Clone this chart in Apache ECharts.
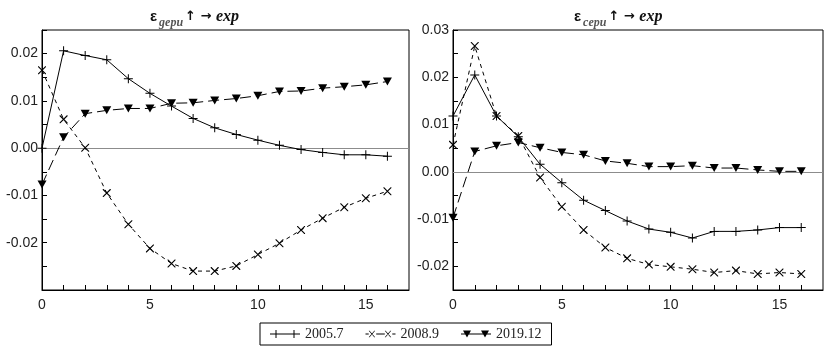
<!DOCTYPE html>
<html>
<head>
<meta charset="utf-8">
<script src="https://cdn.jsdelivr.net/npm/echarts@6/dist/echarts.min.js"></script>
<style>
  html, body { margin: 0; padding: 0; background: #fff; }
  #chart { width: 829px; height: 356px; }
</style>
</head>
<body>
<div id="chart"></div>
<script>
// horizon (periods)
const horizon = [0, 1, 2, 3, 4, 5, 6, 7, 8, 9, 10, 11, 12, 13, 14, 15, 16];
const seriesNames = ["2005.7", "2008.9", "2019.12"];

// left panel: gepu shock -> exp
const gepu2005 = [0, 0.0206, 0.0196, 0.0187, 0.0147, 0.0116, 0.0089, 0.0063, 0.0043, 0.0029, 0.0017, 0.0006, -0.0003, -0.0009, -0.0014, -0.0014, -0.0017];
const gepu2008 = [0.0165, 0.0061, 0.0001, -0.0095, -0.0161, -0.0212, -0.0244, -0.0260, -0.0260, -0.0249, -0.0225, -0.0201, -0.0173, -0.0148, -0.0125, -0.0106, -0.0091];
const gepu2019 = [-0.0077, 0.0023, 0.0073, 0.0080, 0.0084, 0.0084, 0.0095, 0.0096, 0.0101, 0.0105, 0.0111, 0.0120, 0.0121, 0.0127, 0.0130, 0.0134, 0.0141];

// right panel: cepu shock -> exp
const cepu2005 = [0.0118, 0.0205, 0.0118, 0.0074, 0.0016, -0.0023, -0.0060, -0.0082, -0.0104, -0.0121, -0.0128, -0.0140, -0.0126, -0.0126, -0.0123, -0.0118, -0.0118];
const cepu2008 = [0.0057, 0.0266, 0.0118, 0.0076, -0.0012, -0.0074, -0.0123, -0.0160, -0.0183, -0.0196, -0.0201, -0.0206, -0.0213, -0.0209, -0.0216, -0.0213, -0.0216];
const cepu2019 = [-0.0097, 0.0043, 0.0055, 0.0062, 0.0051, 0.0041, 0.0036, 0.0023, 0.0018, 0.0011, 0.0011, 0.0013, 0.0008, 0.0008, 0.0004, 0.0001, 0.0001];

const PLUS = "path://M4,0 L5,0 L5,9 L4,9 Z M0,4 L9,4 L9,5 L0,5 Z";
const CROSS = "path://M0,0 L0.9,0 L9,8.1 L9,9 L8.1,9 L0,0.9 Z M9,0 L9,0.9 L0.9,9 L0,9 L0,8.1 L8.1,0 Z";

// legend icons: line with two markers
const ICON_PLUS = "path://M0,4.5 L30,4.5 L30,5.5 L0,5.5 Z M5.5,1 L6.5,1 L6.5,9 L5.5,9 Z M23.5,1 L24.5,1 L24.5,9 L23.5,9 Z";
const ICON_CROSS = "path://M1,4.5 L4,4.5 L4,5.5 L1,5.5 Z M11,4.5 L19,4.5 L19,5.5 L11,5.5 Z M26,4.5 L29,4.5 L29,5.5 L26,5.5 Z" +
  " M4,2 L4.8,2 L10,8 L9.2,8 Z M9.2,2 L10,2 L4.8,8 L4,8 Z M19,2 L19.8,2 L25,8 L24.2,8 Z M24.2,2 L25,2 L19.8,8 L19,8 Z";
const ICON_TRI = "path://M0,4.5 L30,4.5 L30,5.5 L0,5.5 Z M2,1.5 L10,1.5 L6,8.5 Z M20,1.5 L28,1.5 L24,8.5 Z";

const FONT = "Liberation Sans";
const SERIF = "Liberation Serif";

const chart = echarts.init(document.getElementById("chart"));

function tickLabel(v) {
  const m = Math.round(v * 1000);
  if (m % 10 !== 0) {
    return "";
  }
  if (m === 0) {
    return "0.00";
  }
  return (m / 1000).toFixed(2);
}

function xAxisFor(gridIndex) {
  return {
    type: "value",
    gridIndex,
    min: 0,
    max: 17,
    interval: 1,
    axisLine: { show: true, onZero: false, lineStyle: { color: "#000", width: 1 } },
    axisTick: { show: true, inside: true, length: 5, lineStyle: { color: "#000" } },
    axisLabel: {
      color: "#222",
      fontFamily: FONT,
      fontSize: 14,
      margin: 8,
      showMaxLabel: false,
      formatter: (v) => (v % 5 === 0 ? String(v) : ""),
    },
    splitLine: { show: false },
  };
}

function yAxisFor(gridIndex, min, max) {
  return {
    type: "value",
    gridIndex,
    min,
    max,
    interval: 0.005,
    axisLine: { show: true, onZero: false, lineStyle: { color: "#000", width: 1 } },
    axisTick: { show: true, inside: true, length: 5, lineStyle: { color: "#000" } },
    axisLabel: {
      color: "#222",
      fontFamily: FONT,
      fontSize: 14,
      margin: 4,
      showMinLabel: false,
      formatter: tickLabel,
    },
    splitLine: { show: false },
  };
}

function lineSeries(name, idx, values, kind, withZero) {
  const styles = {
    plus: { symbol: PLUS, size: 9, rotate: 0, dash: "solid" },
    cross: { symbol: CROSS, size: 8, rotate: 0, dash: [4, 4] },
    tri: { symbol: "triangle", size: [9, 8], rotate: 180, dash: [11, 5] },
  };
  const s = styles[kind];
  const out = {
    name,
    type: "line",
    xAxisIndex: idx,
    yAxisIndex: idx,
    data: horizon.map((h, i) => [h, values[i]]),
    symbol: s.symbol,
    symbolSize: s.size,
    symbolRotate: s.rotate,
    showAllSymbol: true,
    silent: true,
    color: "#000",
    itemStyle: { color: "#000", borderWidth: 0 },
    lineStyle: { color: "#000", width: 1, type: s.dash },
    z: 3,
  };
  if (withZero) {
    out.markLine = {
      silent: true,
      symbol: "none",
      label: { show: false },
      lineStyle: { color: "#8c8c8c", width: 1, type: "solid" },
      data: [{ yAxis: 0 }],
      z: 1,
    };
  }
  return out;
}

function titleText(sub) {
  return {
    text: "{e|ε}{s|" + sub + "}{a|↑ → }{x|exp}",
    textStyle: {
      rich: {
        e: { fontFamily: FONT, fontWeight: "bold", fontSize: 15, color: "#111" },
        s: { fontFamily: SERIF, fontStyle: "italic", fontSize: 12, color: "#555", padding: [12, 2, 0, 2] },
        a: { fontFamily: "DejaVu Sans", fontSize: 13, color: "#111" },
        x: { fontFamily: SERIF, fontStyle: "italic", fontWeight: "bold", fontSize: 16, color: "#111" },
      },
    },
  };
}

chart.setOption({
  backgroundColor: "#fff",
  animation: false,
  title: [
    Object.assign({ left: 145, top: 0 }, titleText("gepu")),
    Object.assign({ left: 569, top: 0 }, titleText("cepu")),
  ],
  grid: [
    { left: 42, right: 420, top: 30, bottom: 66, show: true, borderColor: "#000", borderWidth: 1 },
    { left: 453, right: 6, top: 30, bottom: 66, show: true, borderColor: "#000", borderWidth: 1 },
  ],
  xAxis: [xAxisFor(0), xAxisFor(1)],
  yAxis: [yAxisFor(0, -0.03, 0.025), yAxisFor(1, -0.025, 0.03)],
  legend: {
    left: 260,
    top: 323,
    orient: "horizontal",
    itemWidth: 30,
    itemHeight: 10,
    itemGap: 22,
    padding: [4, 10],
    borderColor: "#000",
    borderWidth: 1,
    selectedMode: false,
    textStyle: { fontFamily: SERIF, fontSize: 14, color: "#222" },
    data: [
      { name: seriesNames[0], icon: ICON_PLUS },
      { name: seriesNames[1], icon: ICON_CROSS },
      { name: seriesNames[2], icon: ICON_TRI },
    ],
  },
  series: [
    lineSeries(seriesNames[0], 0, gepu2005, "plus", true),
    lineSeries(seriesNames[1], 0, gepu2008, "cross", false),
    lineSeries(seriesNames[2], 0, gepu2019, "tri", false),
    lineSeries(seriesNames[0], 1, cepu2005, "plus", true),
    lineSeries(seriesNames[1], 1, cepu2008, "cross", false),
    lineSeries(seriesNames[2], 1, cepu2019, "tri", false),
  ],
});
</script>
</body>
</html>
